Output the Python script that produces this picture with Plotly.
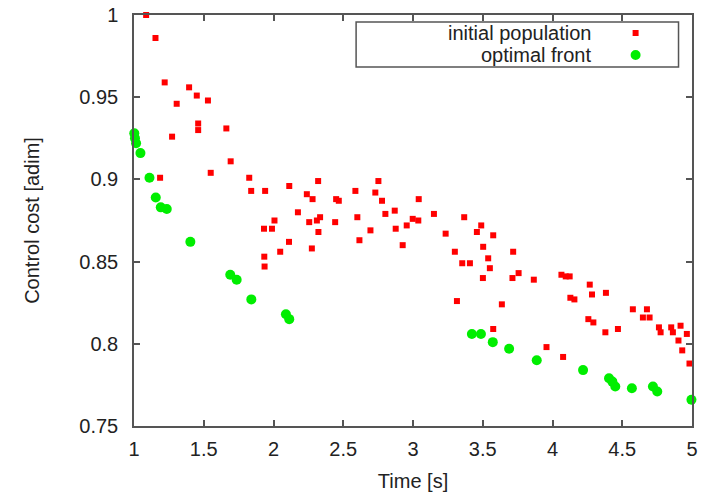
import plotly.graph_objects as go

init_x = [1.087, 1.154, 1.220, 1.395, 1.450, 1.530, 1.306, 1.460, 1.460, 1.662,
          1.273, 1.693, 1.550, 1.187, 1.826, 1.840, 1.940, 2.113, 2.239, 2.280,
          2.320, 2.175, 2.007, 1.932, 1.989, 2.256, 2.311, 2.334, 2.322, 2.111,
          2.048, 2.275, 1.934, 1.936, 2.449, 2.468, 2.587, 2.442, 2.601, 2.616,
          2.695, 2.752, 2.730, 2.778, 2.802, 2.869, 2.876, 2.926, 2.955, 2.998,
          3.038, 3.041, 3.150, 3.234, 3.367, 3.300, 3.353, 3.408, 3.489, 3.458,
          3.575, 3.503, 3.718, 3.539, 3.551, 3.501, 3.713, 3.757, 3.315, 3.637,
          3.575, 3.866, 4.064, 4.095, 4.123, 4.267, 4.283, 4.383, 4.128, 4.157,
          4.576, 4.677, 4.648, 4.696, 4.257, 4.293, 4.379, 4.469, 4.763, 4.775,
          4.851, 4.863, 4.918, 4.963, 4.903, 4.930, 4.982, 3.957, 4.076]
init_y = [1.000, 0.986, 0.959, 0.956, 0.951, 0.948, 0.946, 0.934, 0.930, 0.931,
          0.926, 0.911, 0.904, 0.901, 0.901, 0.893, 0.893, 0.896, 0.891, 0.888,
          0.899, 0.880, 0.875, 0.870, 0.870, 0.874, 0.875, 0.877, 0.868, 0.862,
          0.856, 0.858, 0.853, 0.847, 0.888, 0.887, 0.893, 0.874, 0.877, 0.863,
          0.869, 0.899, 0.892, 0.887, 0.879, 0.881, 0.870, 0.860, 0.872, 0.876,
          0.875, 0.888, 0.879, 0.867, 0.877, 0.856, 0.849, 0.849, 0.872, 0.868,
          0.866, 0.859, 0.856, 0.852, 0.846, 0.840, 0.840, 0.843, 0.826, 0.824,
          0.809, 0.839, 0.842, 0.841, 0.841, 0.836, 0.830, 0.831, 0.828, 0.827,
          0.821, 0.821, 0.816, 0.816, 0.815, 0.813, 0.807, 0.809, 0.810, 0.807,
          0.810, 0.807, 0.811, 0.806, 0.802, 0.796, 0.788, 0.798, 0.792]

front_x = [1.002, 1.007, 1.015, 1.046, 1.111, 1.156, 1.192, 1.235, 1.404, 1.690,
           1.736, 1.841, 2.089, 2.113, 3.422, 3.487, 3.572, 3.689, 3.887, 4.219,
           4.405, 4.429, 4.450, 4.569, 4.720, 4.751, 4.996]
front_y = [0.928, 0.925, 0.922, 0.916, 0.901, 0.889, 0.883, 0.882, 0.862, 0.842,
           0.839, 0.827, 0.818, 0.815, 0.806, 0.806, 0.801, 0.797, 0.790, 0.784,
           0.779, 0.777, 0.774, 0.773, 0.774, 0.771, 0.766]

x_ticks = [1, 1.5, 2, 2.5, 3, 3.5, 4, 4.5, 5]
y_ticks = [0.75, 0.8, 0.85, 0.9, 0.95, 1]
legend_labels = ["initial population", "optimal front"]

FONT = "Liberation Sans, Arial, Helvetica, sans-serif"
W, H = 710, 495
OFF = 8  # page body margin offset of the figure div
# plot-area edges in window pixels
L, R, T, B = 133.5, 692.5, 15, 426


def px(xp):
    return (xp - L) / (R - L)


def py(yp):
    return (B - yp) / (B - T)


fig = go.Figure()
fig.add_trace(go.Scatter(x=init_x, y=init_y, mode="markers", name=legend_labels[0],
                         marker=dict(symbol="square", size=6, color="#ff0000", line=dict(width=0)),
                         cliponaxis=False, showlegend=False))
fig.add_trace(go.Scatter(x=front_x, y=front_y, mode="markers", name=legend_labels[1],
                         marker=dict(symbol="circle", size=10, color="#00ee00", line=dict(width=0)),
                         cliponaxis=False, showlegend=False))

axis_common = dict(showgrid=False, zeroline=False, showline=True, linecolor="#555555",
                   linewidth=1.5, mirror="ticks", ticks="inside", ticklen=6, tickwidth=1.5,
                   tickcolor="#555555", ticklabeloverflow="allow",
                   tickfont=dict(family=FONT, size=20, color="#222222"))

fig.update_layout(
    width=W, height=H,
    margin=dict(l=L - OFF, r=W - (R - OFF), t=T - OFF, b=H - (B - OFF), autoexpand=False),
    paper_bgcolor="white", plot_bgcolor="white",
    font=dict(family=FONT, size=20, color="#222222"),
    xaxis=dict(range=[1, 5], tickvals=x_ticks, ticklabelstandoff=4,
               title=dict(text="Time [s]", standoff=15, font=dict(family=FONT, size=20)),
               **axis_common),
    yaxis=dict(range=[0.75, 1], tickvals=y_ticks, ticklabelstandoff=10,
               title=dict(text="Control cost [adim]", standoff=34, font=dict(family=FONT, size=20)),
               **axis_common),
)

shapes = [
    # legend box
    dict(type="rect", xref="paper", yref="paper", x0=px(356), x1=px(679), y0=py(67), y1=py(22),
         fillcolor="white", line=dict(color="#555555", width=1.5)),
    dict(type="rect", xref="paper", yref="paper", x0=px(633), x1=px(639), y0=py(36), y1=py(30),
         fillcolor="#ff0000", line=dict(width=0)),
    dict(type="circle", xref="paper", yref="paper", x0=px(631), x1=px(641), y0=py(60), y1=py(50),
         fillcolor="#00ee00", line=dict(width=0)),
]
fig.update_layout(shapes=shapes)

fig.add_annotation(xref="paper", yref="paper", x=px(593), y=py(33), text=legend_labels[0],
                   showarrow=False, xanchor="right", yanchor="middle",
                   font=dict(family=FONT, size=20, color="#222222"))
fig.add_annotation(xref="paper", yref="paper", x=px(593), y=py(55), text=legend_labels[1],
                   showarrow=False, xanchor="right", yanchor="middle",
                   font=dict(family=FONT, size=20, color="#222222"))

fig.write_html("out.html")
